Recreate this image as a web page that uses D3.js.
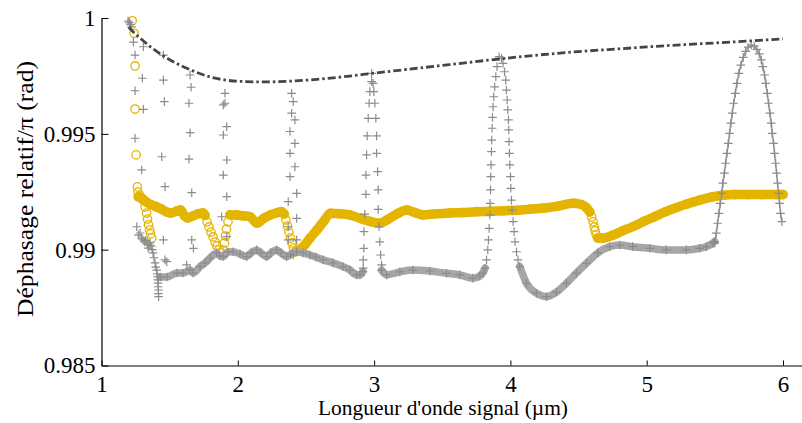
<!DOCTYPE html>
<html><head><meta charset="utf-8">
<script src="https://cdn.jsdelivr.net/npm/d3@7"></script>
<style>body{margin:0;background:#fff}</style>
</head><body><svg id="c" width="802" height="423"></svg>
<script>
// ---------- axis text ----------
const xTicks = [1, 2, 3, 4, 5, 6];
const yTicks = [0.985, 0.99, 0.995, 1];
const yTickLabels = ["0.985", "0.99", "0.995", "1"];
const xLabel = "Longueur d'onde signal (µm)";
const yLabel = "Déphasage relatif/π  (rad)";

// ---------- upper envelope (dash-dot) ----------
const envelope = [[1.2,0.99960],[1.25,0.99930],[1.3,0.99905],[1.35,0.99880],[1.4,0.99858],[1.5,0.99820],[1.6,0.99790],[1.7,0.99765],[1.8,0.99745],[1.9,0.99733],[2.0,0.99727],[2.2,0.99724],[2.4,0.99728],[2.6,0.99736],[2.8,0.99748],[3.0,0.99762],[3.3,0.99782],[3.6,0.99802],[3.9,0.99822],[4.2,0.99840],[4.5,0.99855],[4.8,0.99867],[5.1,0.99879],[5.4,0.99889],[5.7,0.99899],[6.0,0.99910]];

// ---------- yellow circles ----------
const yellowBandA = [[1.27,0.99228],[1.30,0.99220],[1.33,0.99205],[1.36,0.99195],[1.40,0.99186],[1.44,0.99175],[1.48,0.99162],[1.51,0.99158],[1.55,0.99166],[1.58,0.99171],[1.61,0.99145],[1.63,0.99137],[1.67,0.99145],[1.71,0.99155],[1.745,0.99158],[1.76,0.99148]];
const yellowBandB = [[1.943,0.99150],[1.99,0.99150],[2.04,0.99146],[2.09,0.99142],[2.14,0.99115],[2.19,0.99135],[2.24,0.99150],[2.29,0.99160],[2.32,0.99164],[2.34,0.99154]];
const yellowBandC = [[2.42,0.98990],[2.48,0.99013],[2.53,0.99050],[2.58,0.99085],[2.63,0.99122],[2.68,0.99157],[2.75,0.99155],[2.82,0.99150],[2.90,0.99135],[2.97,0.99122],[3.04,0.99114],[3.10,0.99130],[3.17,0.99155],[3.24,0.99171],[3.30,0.99160],[3.36,0.99150],[3.45,0.99155],[3.55,0.99158],[3.65,0.99160],[3.75,0.99164],[3.85,0.99165],[3.95,0.99168],[4.05,0.99170],[4.15,0.99175],[4.25,0.99180],[4.35,0.99188],[4.46,0.99200],[4.52,0.99195],[4.56,0.99180],[4.582,0.99163]];
const yellowBandD = [[4.641,0.99050],[4.68,0.99050],[4.75,0.99062],[4.82,0.99080],[4.90,0.99100],[4.98,0.99122],[5.06,0.99143],[5.14,0.99164],[5.22,0.99182],[5.30,0.99198],[5.39,0.99214],[5.48,0.99228],[5.56,0.99235],[5.65,0.99238],[5.75,0.99238],[5.85,0.99238],[5.95,0.99238],[6.00,0.99238]];
const yellowSparse = [[1.225,0.99988],[1.239,0.99934],[1.246,0.99793],[1.246,0.99607],[1.254,0.99409],[1.263,0.99271],[1.268,0.99249],[1.283,0.99232],[1.305,0.99214],
  [1.320,0.99184],[1.331,0.99158],[1.338,0.99132],[1.345,0.99107],[1.353,0.99085],[1.360,0.99068],[1.369,0.99050],
  [1.774,0.99120],[1.789,0.99098],[1.803,0.99076],[1.818,0.99055],[1.833,0.99033],[1.847,0.99016],[1.862,0.98999],[1.877,0.98986],
  [1.891,0.98999],[1.902,0.99029],[1.909,0.99059],[1.917,0.99089],[1.928,0.99120],
  [2.353,0.99128],[2.364,0.99102],[2.375,0.99076],[2.386,0.99050],[2.397,0.99029],[2.408,0.99007],
  [4.596,0.99141],[4.607,0.99120],[4.615,0.99098],[4.622,0.99081],[4.630,0.99063]];

// ---------- gray crosses ----------
const grayBandA = [[1.430,0.98882],[1.481,0.98882],[1.554,0.98899],[1.598,0.98899],[1.650,0.98912],[1.672,0.98899],[1.723,0.98927],[1.760,0.98943],[1.796,0.98964],[1.845,0.98986],[1.869,0.98973],[1.891,0.98970],[1.928,0.98990],[1.965,0.98991],[2.016,0.98981],[2.065,0.98970],[2.097,0.98986],[2.138,0.98999],[2.170,0.98986],[2.212,0.98970],[2.243,0.98986],[2.285,0.98999],[2.317,0.98986],[2.358,0.98970],[2.390,0.98981],[2.432,0.98991],[2.478,0.98986],[2.529,0.98977],[2.573,0.98968],[2.625,0.98956],[2.698,0.98943],[2.771,0.98927],[2.823,0.98912],[2.872,0.98891],[2.896,0.98891],[2.918,0.98905]];
const grayBandB = [[3.055,0.98912],[3.092,0.98891],[3.189,0.98904],[3.284,0.98912],[3.409,0.98908],[3.531,0.98898],[3.629,0.98891],[3.724,0.98877],[3.775,0.98886],[3.797,0.98899],[3.814,0.98920]];
const grayBandC = [[4.069,0.98927],[4.118,0.98855],[4.191,0.98812],[4.265,0.98797],[4.338,0.98817],[4.411,0.98855],[4.484,0.98899],[4.558,0.98941],[4.641,0.98986],[4.729,0.99013],[4.802,0.99020],[4.897,0.99013],[5.022,0.99006],[5.144,0.98999],[5.291,0.98999],[5.388,0.99006],[5.437,0.99013],[5.484,0.99028],[5.498,0.99035]];
const grayPeak = [[5.498,0.99028],[5.511,0.99071],[5.520,0.99114],[5.530,0.99157],[5.540,0.99200],[5.550,0.99243],[5.559,0.99287],[5.570,0.99330],[5.579,0.99373],[5.589,0.99416],[5.599,0.99459],[5.608,0.99502],[5.618,0.99546],[5.628,0.99589],[5.638,0.99632],[5.650,0.99675],[5.662,0.99718],[5.676,0.99761],[5.691,0.99797],[5.709,0.99830],[5.726,0.99856],[5.745,0.99874],[5.767,0.99883],[5.789,0.99879],[5.808,0.99865],[5.826,0.99845],[5.841,0.99819],[5.852,0.99790],[5.865,0.99754],[5.874,0.99718],[5.885,0.99675],[5.894,0.99632],[5.904,0.99589],[5.914,0.99546],[5.921,0.99502],[5.931,0.99459],[5.938,0.99416],[5.946,0.99373],[5.953,0.99330],[5.960,0.99287],[5.968,0.99243],[5.975,0.99200],[5.982,0.99157],[5.992,0.99121]];
const graySpikes = [
  // 2.96
  [2.920,0.98920],[2.920,0.98956],[2.925,0.99006],[2.925,0.99078],[2.932,0.99153],[2.940,0.99239],[2.940,0.99322],[2.945,0.99409],[2.949,0.99491],[2.957,0.99567],[2.964,0.99632],[2.969,0.99682],[2.982,0.99725],[2.982,0.99761],
  [2.993,0.99718],[2.998,0.99682],[3.006,0.99632],[3.013,0.99567],[3.018,0.99491],[3.018,0.99416],[3.026,0.99337],[3.030,0.99258],[3.030,0.99174],[3.037,0.99099],[3.042,0.99034],[3.048,0.98977],[3.055,0.98934],
  // 3.95
  [3.825,0.98956],[3.834,0.98999],[3.839,0.99042],[3.844,0.99092],[3.849,0.99150],[3.851,0.99200],[3.854,0.99258],[3.856,0.99315],[3.858,0.99366],[3.861,0.99423],[3.863,0.99473],[3.866,0.99524],[3.869,0.99571],[3.873,0.99617],[3.878,0.99660],[3.885,0.99703],[3.893,0.99747],[3.902,0.99790],[3.917,0.99833],
  [3.935,0.99826],[3.946,0.99804],[3.957,0.99768],[3.966,0.99732],[3.971,0.99689],[3.976,0.99646],[3.981,0.99603],[3.986,0.99560],[3.988,0.99517],[3.990,0.99466],[3.993,0.99416],[3.996,0.99366],[4.001,0.99315],[4.003,0.99265],[4.008,0.99214],[4.012,0.99171],[4.020,0.99121],[4.027,0.99078],[4.034,0.99034],[4.045,0.98991],[4.056,0.98956]
];
const graySparse = [
  [1.195,0.99987],[1.205,0.99980],[1.212,0.99972],[1.220,0.99962],
  [1.234,0.99896],[1.246,0.99840],[1.246,0.99686],[1.246,0.99481],[1.259,0.99099],[1.271,0.99063],
  [1.307,0.99876],[1.300,0.99740],[1.307,0.99606],[1.295,0.99344],
  [1.454,0.99840],[1.454,0.99732],[1.461,0.99639],[1.442,0.99401],[1.466,0.99272],[1.454,0.99042],[1.466,0.98956],[1.479,0.98948],
  [1.650,0.99754],[1.657,0.99701],[1.642,0.99632],[1.650,0.99505],[1.642,0.99391],[1.662,0.99246],[1.662,0.99042],[1.674,0.99006],[1.625,0.98934],
  [1.906,0.99675],[1.906,0.99632],[1.894,0.99625],[1.919,0.99531],[1.894,0.99495],[1.919,0.99387],[1.894,0.99322],[1.919,0.99229],[1.882,0.99142],[1.919,0.99056],
  [2.395,0.99675],[2.407,0.99639],[2.395,0.99589],[2.419,0.99560],[2.383,0.99510],[2.419,0.99459],[2.383,0.99416],[2.419,0.99358],[2.383,0.99315],[2.432,0.99243],[2.370,0.99207],[2.432,0.99135],[2.370,0.99099],[2.432,0.99042],[2.370,0.99042],[2.407,0.98977],
  [1.283,0.99072],[1.295,0.99050],[1.305,0.99042],[1.315,0.99035],[1.325,0.99040],[1.335,0.99025],[1.342,0.99007],[1.350,0.99020],[1.356,0.99029],[1.365,0.99015],[1.372,0.99000],[1.378,0.98986],[1.385,0.98965],[1.393,0.98943],[1.398,0.98925],[1.405,0.98912],[1.408,0.98895],[1.410,0.98883],[1.413,0.98870],[1.415,0.98856],[1.416,0.98840],[1.417,0.98826],[1.418,0.98810],[1.419,0.98797]
];

// ---------- drawing ----------
const svg = d3.select("#c");
const FONT = "'Liberation Serif', 'Times New Roman', serif";
const x = d3.scaleLinear().domain([1, 6.1395]).range([101.5, 802]);
const y = d3.scaleLinear().domain([0.985, 1]).range([365.5, 18]);
const line = d3.line().x(d => x(d[0])).y(d => y(d[1])).curve(d3.curveMonotoneX);

const YEL = "#e4b500", GBAND = "#a6a6a6", GCROSS = "#8c8c8c";
const crossPath = "M-4.3,0H4.3M0,-4.3V4.3";

const gY = svg.append("g");
[yellowBandA, yellowBandB, yellowBandC, yellowBandD].forEach(seg => {
  gY.append("path").datum(seg).attr("d", line).attr("fill", "none")
    .attr("stroke", YEL).attr("stroke-width", 9.5).attr("stroke-linecap", "round").attr("stroke-linejoin", "round");
});
const allYellow = [].concat(yellowBandA, yellowBandB, yellowBandC, yellowBandD, yellowSparse);
gY.selectAll("circle").data(allYellow).join("circle")
  .attr("cx", d => x(d[0])).attr("cy", d => y(d[1])).attr("r", 4.2)
  .attr("fill", "none").attr("stroke", YEL).attr("stroke-width", 1.3);

const gG = svg.append("g");
[grayBandA, grayBandB, grayBandC].forEach(seg => {
  gG.append("path").datum(seg).attr("d", line).attr("fill", "none")
    .attr("stroke", GBAND).attr("stroke-width", 7.5).attr("stroke-linecap", "round").attr("stroke-linejoin", "round");
});
gG.append("path").datum(grayPeak).attr("d", d3.line().x(d => x(d[0])).y(d => y(d[1])))
  .attr("fill", "none").attr("stroke", "#9a9a9a").attr("stroke-width", 1.6);
const allGray = [].concat(grayBandA, grayBandB, grayBandC, grayPeak, graySpikes, graySparse);
gG.selectAll("path.cr").data(allGray).join("path").attr("class", "cr")
  .attr("d", crossPath).attr("transform", d => `translate(${x(d[0])},${y(d[1])})`)
  .attr("fill", "none").attr("stroke", GCROSS).attr("stroke-width", 1.2);

svg.append("path").datum(envelope).attr("d", d3.line().x(d => x(d[0])).y(d => y(d[1])).curve(d3.curveMonotoneX))
  .attr("fill", "none").attr("stroke", "#454545").attr("stroke-width", 2.8)
  .attr("stroke-dasharray", "8,3,2.5,3");

// axes
const ax = svg.append("g").attr("transform", "translate(0,365.5)")
  .call(d3.axisBottom(x).tickValues(xTicks).tickFormat(d3.format("d")).tickSize(-5).tickSizeOuter(0).tickPadding(10));
const ay = svg.append("g").attr("transform", "translate(101.5,0)")
  .call(d3.axisLeft(y).tickValues(yTicks).tickFormat((d, i) => yTickLabels[i]).tickSize(-7).tickSizeOuter(0).tickPadding(6));
[ax, ay].forEach(g => {
  g.select(".domain").attr("stroke", "#000").attr("stroke-width", 1.2);
  g.selectAll(".tick line").attr("stroke", "#000").attr("stroke-width", 1);
  g.selectAll("text").attr("font-family", FONT).attr("font-size", 23).attr("fill", "#000");
});

svg.append("text").attr("x", 443).attr("y", 415).attr("text-anchor", "middle")
  .attr("font-family", FONT).attr("font-size", 22)
  .attr("textLength", 250).attr("lengthAdjust", "spacingAndGlyphs").text(xLabel);
svg.append("text").attr("transform", "translate(33,189) rotate(-90)").attr("text-anchor", "middle")
  .attr("font-family", FONT).attr("font-size", 24)
  .attr("textLength", 256).attr("lengthAdjust", "spacingAndGlyphs").text(yLabel);
</script></body></html>
